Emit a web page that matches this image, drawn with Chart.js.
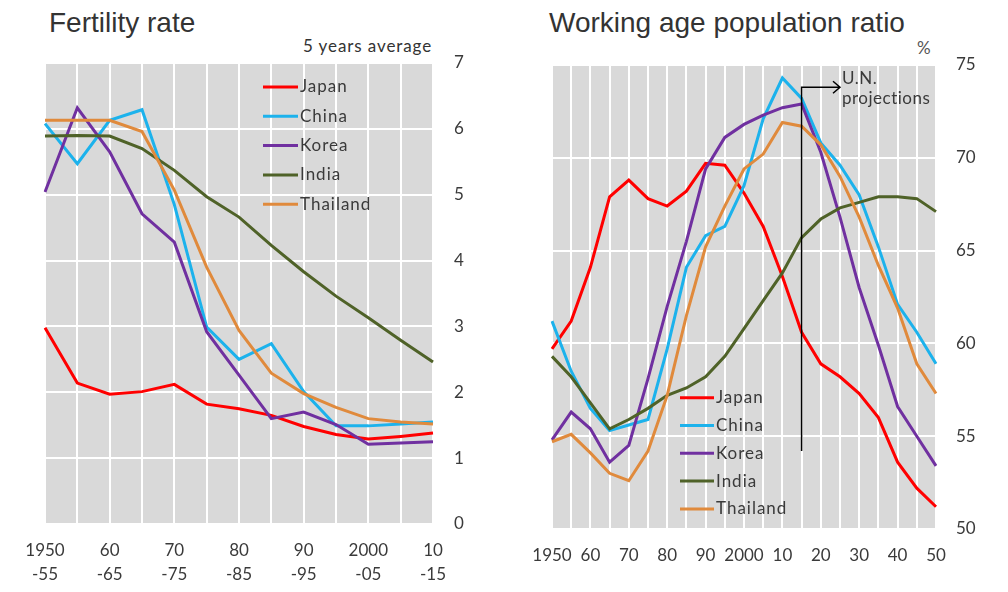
<!DOCTYPE html>
<html>
<head>
<meta charset="utf-8">
<script src="https://cdn.jsdelivr.net/npm/chart.js@4.4.1/dist/chart.umd.min.js"></script>
<style>
  body { margin: 0; background: #fff; width: 1008px; height: 592px; position: relative; overflow: hidden; }
  canvas { position: absolute; top: 0; }
  .title { position: absolute; top: 7px; font-family: "Liberation Sans", Arial, sans-serif; font-size: 28px; color: #333; white-space: nowrap; }
  .note { position: absolute; font-family: Lato, sans-serif; font-size: 17px; color: #333; letter-spacing: 0.9px; white-space: nowrap; }
</style>
</head>
<body>
<div class="title" style="left:49px">Fertility rate</div>
<div class="title" style="left:549px">Working age population ratio</div>
<div class="note" style="left:303px; top:35px">5 years average</div>
<div class="note" style="left:917px; top:37px; color:#555">%</div>
<canvas id="fertility" width="500" height="592" style="left:0; width:500px; height:592px"></canvas>
<canvas id="working-age" width="508" height="592" style="left:500px; width:508px; height:592px"></canvas>
<script>
const countries = ['Japan', 'China', 'Korea', 'India', 'Thailand']
const colors = ['#ff0000', '#1cb2ec', '#7030a0', '#4f6228', '#e08a3c']

// Fertility rate, 5 years average
const fertPeriods = ['1950-55', '1955-60', '1960-65', '1965-70', '1970-75', '1975-80', '1980-85',
  '1985-90', '1990-95', '1995-00', '2000-05', '2005-10', '2010-15']
const fertTickLabels = [['1950', '-55'], '', ['60', '-65'], '', ['70', '-75'], '', ['80', '-85'], '',
  ['90', '-95'], '', ['2000', '-05'], '', ['10', '-15']]
const fertJapan    = [2.98, 2.14, 1.97, 2.01, 2.12, 1.82, 1.75, 1.65, 1.48, 1.36, 1.29, 1.33, 1.38]
const fertChina    = [6.08, 5.47, 6.13, 6.29, 4.85, 2.99, 2.50, 2.74, 2.01, 1.49, 1.49, 1.52, 1.55]
const fertKorea    = [5.04, 6.32, 5.65, 4.71, 4.28, 2.92, 2.26, 1.60, 1.70, 1.51, 1.21, 1.23, 1.25]
const fertIndia    = [5.89, 5.90, 5.89, 5.70, 5.37, 4.97, 4.66, 4.23, 3.83, 3.46, 3.13, 2.79, 2.46]
const fertThailand = [6.13, 6.13, 6.13, 5.96, 5.07, 3.90, 2.94, 2.29, 1.98, 1.77, 1.60, 1.55, 1.52]

// Working age population ratio, %
const workYears = ['1950', '1955', '1960', '1965', '1970', '1975', '1980', '1985', '1990', '1995', '2000',
  '2005', '2010', '2015', '2020', '2025', '2030', '2035', '2040', '2045', '2050']
const workTickLabels = ['1950', '', '60', '', '70', '', '80', '', '90', '', '2000', '', '10', '', '20', '',
  '30', '', '40', '', '50']
const workJapan    = [59.7, 61.2, 64.1, 67.9, 68.8, 67.8, 67.4, 68.2, 69.7, 69.6, 68.1, 66.3, 63.6, 60.6,
  58.9, 58.2, 57.3, 56.0, 53.6, 52.2, 51.2]
const workChina    = [61.2, 58.5, 56.5, 55.3, 55.6, 55.9, 59.7, 64.1, 65.8, 66.3, 68.5, 72.1, 74.3, 73.2,
  70.8, 69.6, 68.0, 65.2, 62.1, 60.6, 58.9]
const workKorea    = [54.8, 56.3, 55.4, 53.6, 54.5, 58.1, 62.0, 65.5, 69.4, 71.1, 71.8, 72.3, 72.7, 72.9,
  70.3, 66.8, 63.0, 59.9, 56.6, 55.0, 53.4]
const workIndia    = [59.3, 58.2, 56.8, 55.4, 55.9, 56.5, 57.2, 57.6, 58.2, 59.3, 60.8, 62.3, 63.8, 65.7,
  66.7, 67.3, 67.6, 67.9, 67.9, 67.8, 67.1]
const workThailand = [54.7, 55.1, 54.1, 53.0, 52.6, 54.2, 57.2, 61.5, 65.2, 67.4, 69.4, 70.2, 71.9, 71.7,
  70.7, 69.0, 66.8, 64.2, 61.9, 58.9, 57.3]

// U.N. projections marker
const projectionStart = '2015'
const projectionArrowTo = '2025'
const projectionTop = 73.8
const projectionBottom = 54.2

const textColor = '#3a3a3a'
const tickFont = { family: 'Lato', size: 17, lineHeight: 1.45 }

function makeDatasets(seriesList) {
  return seriesList.map((data, i) => ({
    label: countries[i],
    data: data,
    borderColor: colors[i],
    backgroundColor: colors[i],
    borderWidth: 3,
    pointRadius: 0,
    tension: 0,
    order: seriesList.length - i
  }))
}

const chartDecor = {
  id: 'chartDecor',
  beforeDraw(chart) {
    const a = chart.chartArea
    const ctx = chart.ctx
    ctx.save()
    ctx.fillStyle = '#d9d9d9'
    ctx.fillRect(a.left, a.top, a.right - a.left, a.bottom - a.top)
    ctx.restore()
  },
  afterDatasetsDraw(chart, args, opts) {
    const ctx = chart.ctx
    ctx.save()
    if (opts.projection) {
      const p = opts.projection
      const xs = chart.scales.x
      const ys = chart.scales.y
      const x0 = xs.getPixelForValue(workYears.indexOf(p.from))
      const x1 = xs.getPixelForValue(workYears.indexOf(p.to))
      const yTop = ys.getPixelForValue(p.top)
      const yBot = ys.getPixelForValue(p.bottom)
      ctx.strokeStyle = '#000'
      ctx.lineWidth = 1.5
      ctx.beginPath()
      ctx.moveTo(x0, yBot)
      ctx.lineTo(x0, yTop)
      ctx.lineTo(x1, yTop)
      ctx.moveTo(x1 - 7, yTop - 6)
      ctx.lineTo(x1, yTop)
      ctx.lineTo(x1 - 7, yTop + 6)
      ctx.stroke()
      ctx.fillStyle = textColor
      ctx.font = '17px Lato'
      ctx.letterSpacing = '0.5px'
      ctx.textAlign = 'left'
      ctx.textBaseline = 'middle'
      ctx.fillText(p.text[0], x1 + 2, yTop - 9)
      ctx.fillText(p.text[1], x1 + 2, yTop + 11)
    }
    const lg = opts.legend
    chart.data.datasets.forEach((ds, i) => {
      const y = lg.y + i * lg.gap
      ctx.strokeStyle = ds.borderColor
      ctx.lineWidth = 3
      ctx.beginPath()
      ctx.moveTo(lg.x, y)
      ctx.lineTo(lg.x + lg.len, y)
      ctx.stroke()
      ctx.fillStyle = textColor
      ctx.font = '17px Lato'
      ctx.letterSpacing = '1px'
      ctx.textAlign = 'left'
      ctx.textBaseline = 'middle'
      ctx.fillText(ds.label, lg.x + lg.len + 2, y)
    })
    ctx.restore()
  }
}

function gridOpts() {
  return { color: '#ffffff', lineWidth: 2, drawTicks: false }
}

new Chart(document.getElementById('fertility'), {
  type: 'line',
  data: {
    labels: fertPeriods,
    datasets: makeDatasets([fertJapan, fertChina, fertKorea, fertIndia, fertThailand])
  },
  options: {
    responsive: false,
    animation: false,
    layout: { padding: { left: 45, top: 63, right: 0, bottom: 0 } },
    plugins: {
      legend: { display: false },
      tooltip: { enabled: false },
      chartDecor: { legend: { x: 263, y: 87, gap: 29.3, len: 35 } }
    },
    scales: {
      x: {
        grid: gridOpts(),
        border: { display: false },
        afterFit: (s) => { s.height = 68 },
        ticks: {
          autoSkip: false, maxRotation: 0, padding: 14, color: textColor, font: tickFont,
          callback: (v, i) => fertTickLabels[i]
        }
      },
      y: {
        position: 'right',
        min: 0, max: 7,
        grid: gridOpts(),
        border: { display: false },
        afterFit: (s) => { s.width = 67 },
        ticks: { stepSize: 1, padding: 21, color: textColor, font: tickFont }
      }
    }
  },
  plugins: [chartDecor]
})

new Chart(document.getElementById('working-age'), {
  type: 'line',
  data: {
    labels: workYears,
    datasets: makeDatasets([workJapan, workChina, workKorea, workIndia, workThailand])
  },
  options: {
    responsive: false,
    animation: false,
    layout: { padding: { left: 52, top: 65, right: 0, bottom: 0 } },
    plugins: {
      legend: { display: false },
      tooltip: { enabled: false },
      chartDecor: {
        legend: { x: 180, y: 397.7, gap: 27.8, len: 34 },
        projection: { from: projectionStart, to: projectionArrowTo, top: projectionTop,
          bottom: projectionBottom, text: ['U.N.', 'projections'] }
      }
    },
    scales: {
      x: {
        grid: gridOpts(),
        border: { display: false },
        afterFit: (s) => { s.height = 63 },
        ticks: {
          autoSkip: false, maxRotation: 0, padding: 14, color: textColor, font: tickFont,
          callback: (v, i) => workTickLabels[i]
        }
      },
      y: {
        position: 'right',
        min: 50, max: 75,
        grid: gridOpts(),
        border: { display: false },
        afterFit: (s) => { s.width = 72 },
        ticks: { stepSize: 5, padding: 20, color: textColor, font: tickFont }
      }
    }
  },
  plugins: [chartDecor]
})
</script>
</body>
</html>
